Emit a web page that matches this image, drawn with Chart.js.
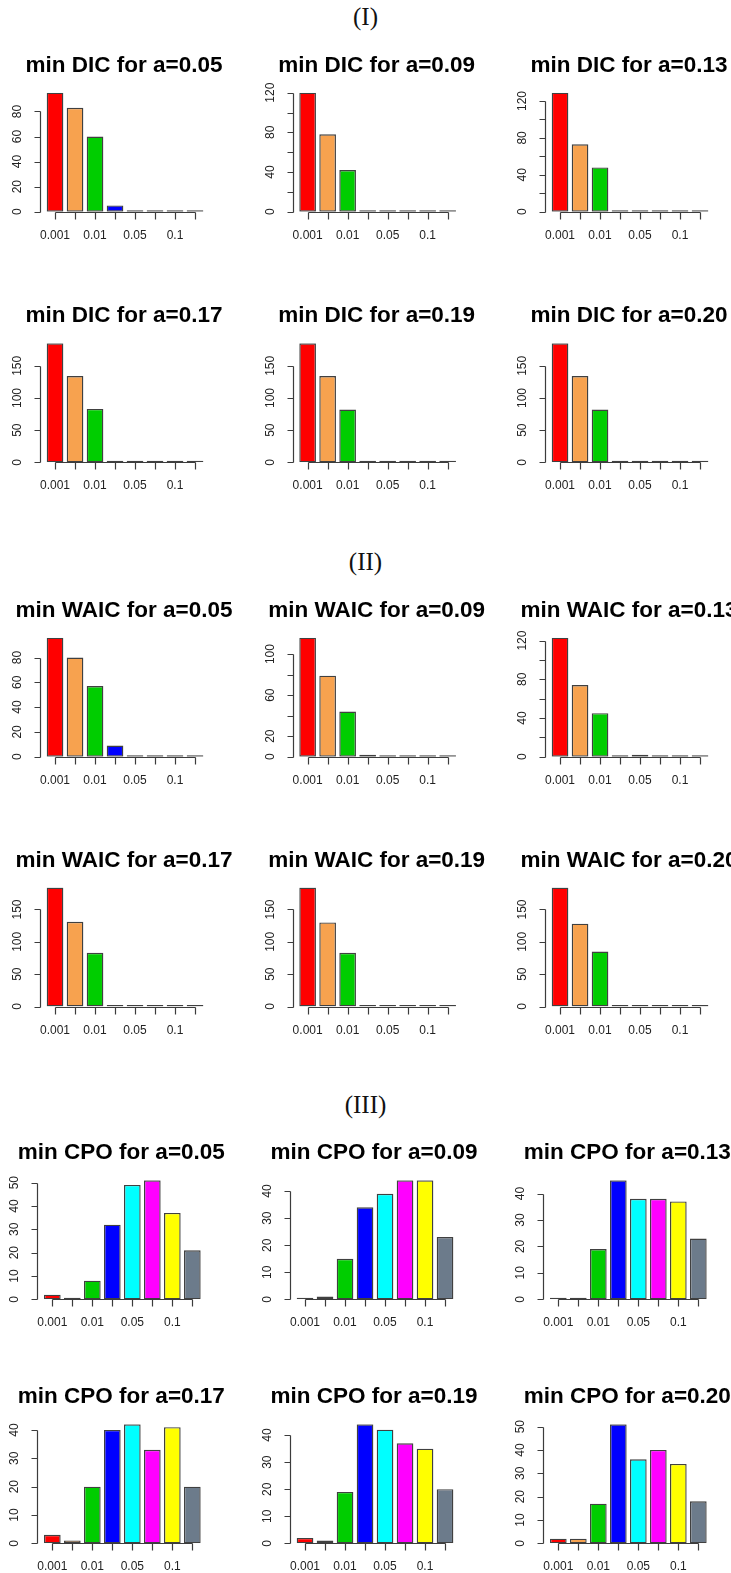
<!DOCTYPE html>
<html>
<head>
<meta charset="utf-8">
<title>min DIC / WAIC / CPO</title>
<script src="https://cdn.jsdelivr.net/npm/chart.js@4.4.1/dist/chart.umd.min.js"></script>
<style>
  html, body { margin: 0; padding: 0; background: #fff; }
  body { position: relative; width: 731px; height: 1573px; overflow: hidden; }
  .part { position: absolute; left: 0; width: 731px; text-align: center;
          font-family: "Liberation Serif", "DejaVu Serif", serif; font-size: 25px; color: #111; }
  canvas { position: absolute; }
</style>
</head>
<body>
<div class="part" style="top:3px">(I)</div>
<div class="part" style="top:548px">(II)</div>
<div class="part" style="top:1091px">(III)</div>
<script>
// bar categories (R only prints every other name, the rest stay blank)
const categories = ['0.001', '', '0.01', '', '0.05', '', '0.1', ''];
const barColors = ['#ff0000', '#f7a24f', '#00cd00', '#0000ff', '#00ffff', '#ff00ff', '#ffff00', '#6c7b8b'];
const alphas = ['0.05', '0.09', '0.13', '0.17', '0.19', '0.20'];

const dicCounts = [
  [95, 83, 60, 5, 1, 0, 0, 1],
  [120, 78, 42, 0, 0, 0, 0, 0],
  [129, 73, 48, 0, 1, 0, 0, 0],
  [185, 134, 83, 0, 0, 0, 0, 0],
  [185, 134, 82, 0, 0, 0, 0, 0],
  [185, 134, 82, 2, 2, 0, 0, 0]
];
const waicCounts = [
  [96, 80, 57, 9, 1, 0, 0, 1],
  [116, 79, 44, 2, 1, 0, 0, 1],
  [123, 74, 45, 1, 2, 0, 0, 0],
  [184, 131, 83, 0, 0, 0, 0, 0],
  [184, 130, 83, 2, 0, 0, 0, 0],
  [184, 128, 85, 2, 0, 0, 2, 0]
];
const cpoCounts = [
  [2, 0, 8, 32, 49, 51, 37, 21],
  [0, 1, 15, 34, 39, 44, 44, 23],
  [0, 0, 19, 45, 38, 38, 37, 23],
  [3, 1, 20, 40, 42, 33, 41, 20],
  [2, 1, 19, 44, 42, 37, 35, 20],
  [2, 2, 17, 51, 36, 40, 34, 18]
];

// y axis tick spacing and the tick values that carry a printed label
const dicYStep = [20, 20, 20, 50, 50, 50];
const dicYLabels = [[0, 20, 40, 60, 80], [0, 40, 80, 120], [0, 40, 80, 120],
                    [0, 50, 100, 150], [0, 50, 100, 150], [0, 50, 100, 150]];
const waicYStep = [20, 20, 20, 50, 50, 50];
const waicYLabels = [[0, 20, 40, 60, 80], [0, 20, 60, 100], [0, 40, 80, 120],
                     [0, 50, 100, 150], [0, 50, 100, 150], [0, 50, 100, 150]];
const cpoYStep = [10, 10, 10, 10, 10, 10];
const cpoYLabels = [[0, 10, 20, 30, 40, 50], [0, 10, 20, 30, 40], [0, 10, 20, 30, 40],
                    [0, 10, 20, 30, 40], [0, 10, 20, 30, 40], [0, 10, 20, 30, 40, 50]];

const SANS = '"Liberation Sans", Arial, Helvetica, sans-serif';
const PERIOD = 20;          // px per bar slot
const AREA_H = 119;         // px from zero line to tallest bar

// base R look: axis lines only between the outer ticks, rotated y labels
const rAxes = {
  id: 'rAxes',
  afterDraw(chart, args, opts) {
    const { ctx, chartArea: area, scales: { x, y } } = chart;
    const zero = y.getPixelForValue(0);
    ctx.save();
    ctx.strokeStyle = '#3c3c3c';
    ctx.fillStyle = '#222';
    ctx.lineWidth = 1.2;

    // x axis
    const ay = Math.round(zero) + 0.5;
    const xs = categories.map((c, i) => Math.round(x.getPixelForValue(i)) + 0.5);
    ctx.beginPath();
    ctx.moveTo(xs[0], ay);
    ctx.lineTo(xs[xs.length - 1], ay);
    xs.forEach(px => { ctx.moveTo(px, ay); ctx.lineTo(px, ay + 7); });
    ctx.stroke();
    ctx.font = '12px ' + SANS;
    ctx.textAlign = 'center';
    ctx.textBaseline = 'alphabetic';
    categories.forEach((c, i) => { if (c) ctx.fillText(c, x.getPixelForValue(i), zero + 27); });

    // y axis
    const axX = Math.round(area.left - 4) - 0.5;
    const ticks = [];
    for (let v = 0; v <= y.max + 1e-9; v += opts.step) ticks.push(v);
    const ys = ticks.map(v => Math.round(y.getPixelForValue(v)) + 0.5);
    ctx.beginPath();
    ctx.moveTo(axX, ys[0]);
    ctx.lineTo(axX, ys[ys.length - 1]);
    ys.forEach(py => { ctx.moveTo(axX, py); ctx.lineTo(axX - 6, py); });
    ctx.stroke();
    ctx.font = '12px ' + SANS;
    ticks.forEach(v => {
      if (!opts.labels.includes(v)) return;
      ctx.save();
      ctx.translate(axX - 20, y.getPixelForValue(v));
      ctx.rotate(-Math.PI / 2);
      ctx.fillText(String(v), 0, 0);
      ctx.restore();
    });

    // panel title
    ctx.fillStyle = '#000';
    ctx.font = 'bold 22.5px ' + SANS;
    ctx.fillText(opts.title, (area.left + area.right) / 2 - 1, zero - 140);
    ctx.restore();
  }
};

function panel(counts, title, step, labels, barLeft, zeroY) {
  const cv = document.createElement('canvas');
  const cw = 260, ch = 222;
  const left = Math.round(barLeft) - 50;
  const top = Math.round(zeroY) - 180;
  cv.width = cw; cv.height = ch;
  cv.style.left = left + 'px';
  cv.style.top = top + 'px';
  cv.style.width = cw + 'px';
  cv.style.height = ch + 'px';
  document.body.appendChild(cv);

  const areaLeft = barLeft - PERIOD / 12;
  const padLeft = areaLeft - left;
  const padTop = zeroY - AREA_H - top;
  new Chart(cv, {
    type: 'bar',
    data: {
      labels: categories,
      datasets: [{
        data: counts,
        backgroundColor: barColors,
        borderColor: '#404040',
        borderWidth: 1.4,
        borderSkipped: false,
        minBarLength: 1.5,
        barPercentage: 1 / 1.2,
        categoryPercentage: 1
      }]
    },
    options: {
      responsive: false,
      animation: false,
      devicePixelRatio: 1,
      layout: {
        padding: {
          left: padLeft,
          top: padTop,
          right: cw - padLeft - PERIOD * categories.length,
          bottom: ch - (zeroY - top)
        }
      },
      scales: {
        x: { display: false },
        y: { display: false, min: 0, max: Math.max(...counts) }
      },
      plugins: {
        legend: { display: false },
        tooltip: { enabled: false },
        rAxes: { title: title, step: step, labels: labels }
      }
    },
    plugins: [rAxes]
  });
}

// three columns per row, six rows in three blocks
const colBarLeft = [46.7, 299.3, 551.7];
const cpoBarLeft = [44, 296.7, 550];
const rowZero = [211.7, 462.3, 756.7, 1006.5, 1299.3, 1543.3];

const blocks = [
  { name: 'DIC', counts: dicCounts, step: dicYStep, labels: dicYLabels, cols: colBarLeft, rows: [0, 1] },
  { name: 'WAIC', counts: waicCounts, step: waicYStep, labels: waicYLabels, cols: colBarLeft, rows: [2, 3] },
  { name: 'CPO', counts: cpoCounts, step: cpoYStep, labels: cpoYLabels, cols: cpoBarLeft, rows: [4, 5] }
];

blocks.forEach(b => {
  b.counts.forEach((counts, i) => {
    const r = b.rows[Math.floor(i / 3)];
    const c = i % 3;
    panel(counts, 'min ' + b.name + ' for a=' + alphas[i], b.step[i], b.labels[i], b.cols[c], rowZero[r]);
  });
});
</script>
</body>
</html>
